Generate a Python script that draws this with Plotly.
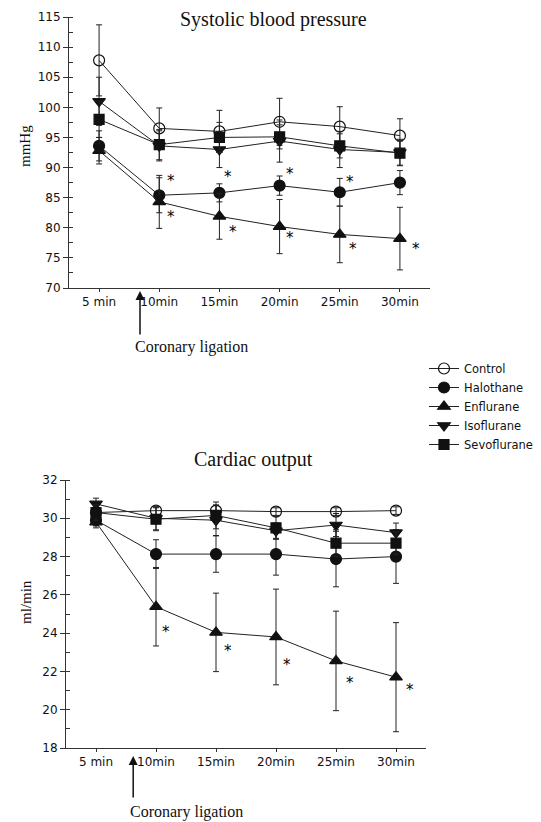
import plotly.graph_objects as go

categories = ["5 min", "10min", "15min", "20min", "25min", "30min"]
series_names = ["Control", "Halothane", "Enflurane", "Isoflurane", "Sevoflurane"]

# Systolic blood pressure (mmHg)
sbp_control = [107.8, 96.5, 96.0, 97.6, 96.8, 95.3]
sbp_halothane = [93.6, 85.4, 85.8, 87.0, 85.9, 87.5]
sbp_enflurane = [92.8, 84.3, 81.9, 80.2, 78.9, 78.2]
sbp_isoflurane = [101.0, 93.6, 93.0, 94.4, 93.0, 92.5]
sbp_sevoflurane = [98.0, 93.8, 95.0, 95.1, 93.6, 92.4]
sbp_control_sd = [5.9, 3.4, 3.5, 3.9, 3.3, 2.8]
sbp_halothane_sd = [2.5, 2.9, 1.5, 1.6, 2.3, 2.0]
sbp_enflurane_sd = [2.2, 4.4, 3.8, 4.5, 4.7, 5.2]
sbp_isoflurane_sd = [4.0, 2.5, 3.0, 3.5, 3.0, 2.2]
sbp_sevoflurane_sd = [3.0, 2.5, 2.5, 2.0, 2.0, 2.0]
sbp_star_x = [1.2, 1.2, 2.15, 2.22, 3.18, 3.18, 4.17, 4.22, 5.27]
sbp_star_y = [88.4, 82.4, 89.1, 80.0, 89.6, 79.0, 88.2, 77.1, 77.1]

# Cardiac output (ml/min)
co_control = [30.3, 30.4, 30.4, 30.35, 30.35, 30.4]
co_halothane = [29.9, 28.13, 28.13, 28.13, 27.87, 28.0]
co_enflurane = [29.8, 25.38, 24.04, 23.8, 22.55, 21.7]
co_isoflurane = [30.75, 30.0, 29.9, 29.35, 29.65, 29.25]
co_sevoflurane = [30.3, 29.95, 30.15, 29.5, 28.7, 28.7]
co_control_sd = [0.2, 0.2, 0.25, 0.2, 0.2, 0.2]
co_halothane_sd = [0.3, 0.75, 0.95, 1.1, 1.45, 1.4]
co_enflurane_sd = [0.3, 2.05, 2.05, 2.5, 2.6, 2.85]
co_isoflurane_sd = [0.3, 0.6, 0.8, 0.4, 0.6, 0.5]
co_sevoflurane_sd = [0.4, 0.6, 0.7, 0.6, 0.7, 0.6]
co_star_x = [1.17, 2.2, 3.19, 4.23, 5.24]
co_star_y = [24.27, 23.3, 22.54, 21.6, 21.24]

symbols = ["circle-open", "circle", "triangle-up", "triangle-down", "square"]
sizes = [11, 11, 11, 11, 10]

W, H = 541, 822
OFFX, OFFY = 5, 8  # page offset of the plot div
def px(p):
    return (p - OFFX) / W
def py(p):
    return 1 - (p - OFFY) / H

xs = list(range(len(categories)))
fig = go.Figure()

sbp = [sbp_control, sbp_halothane, sbp_enflurane, sbp_isoflurane, sbp_sevoflurane]
sbp_sd = [sbp_control_sd, sbp_halothane_sd, sbp_enflurane_sd, sbp_isoflurane_sd, sbp_sevoflurane_sd]
co = [co_control, co_halothane, co_enflurane, co_isoflurane, co_sevoflurane]
co_sd = [co_control_sd, co_halothane_sd, co_enflurane_sd, co_isoflurane_sd, co_sevoflurane_sd]

for i, name in enumerate(series_names):
    mk = dict(symbol=symbols[i], size=sizes[i], color="#111",
              line=dict(color="#111", width=1.2))
    fig.add_trace(go.Scatter(
        x=xs, y=sbp[i], mode="lines+markers", name=name, marker=mk,
        line=dict(color="#222", width=1),
        error_y=dict(type="data", array=sbp_sd[i], color="#222", thickness=1, width=3),
        xaxis="x", yaxis="y", showlegend=True))
for i, name in enumerate(series_names):
    mk = dict(symbol=symbols[i], size=sizes[i], color="#111",
              line=dict(color="#111", width=1.2))
    fig.add_trace(go.Scatter(
        x=xs, y=co[i], mode="lines+markers", name=name, marker=mk,
        line=dict(color="#222", width=1),
        error_y=dict(type="data", array=co_sd[i], color="#222", thickness=1, width=3),
        xaxis="x2", yaxis="y2", showlegend=False))

tickfont = dict(family="DejaVu Sans", size=12, color="#111")
xcommon = dict(tickvals=xs, ticktext=categories, range=[-0.5, 5.5], showline=True,
               linecolor="#333", linewidth=1, ticks="outside", ticklen=3, tickcolor="#333",
               showgrid=False, zeroline=False, tickfont=tickfont, automargin=False)
ycommon = dict(showline=True, linecolor="#333", linewidth=1, ticks="outside", ticklen=5,
               tickcolor="#333", showgrid=False, zeroline=False, tickfont=tickfont,
               automargin=False)
fig.update_layout(
    width=W, height=H, margin=dict(l=0, r=0, t=0, b=0, autoexpand=False),
    paper_bgcolor="white", plot_bgcolor="white",
    xaxis=dict(domain=[px(66), px(427)], anchor="y", **xcommon),
    yaxis=dict(domain=[py(288), py(17)], anchor="x", range=[70, 115], dtick=5,
               minor=dict(ticks="inside", ticklen=4, dtick=2.5, tickcolor="#333"), **ycommon),
    xaxis2=dict(domain=[px(63), px(423)], anchor="y2", **xcommon),
    yaxis2=dict(domain=[py(748), py(480)], anchor="x2", range=[18, 32], dtick=2,
                minor=dict(ticks="inside", ticklen=4, dtick=1, tickcolor="#333"), **ycommon),
    legend=dict(x=px(421), y=py(354), xanchor="left", yanchor="top",
                font=dict(family="DejaVu Sans", size=11.5, color="#111"),
                bgcolor="rgba(0,0,0,0)", itemwidth=30, tracegroupgap=0),
    showlegend=True,
)

serif = "Liberation Serif"
def lab(text, x, y, size, angle=0):
    return dict(text=text, x=px(x), y=py(y), xref="paper", yref="paper", textangle=angle,
                xanchor="center", yanchor="middle", showarrow=False, borderpad=0,
                font=dict(family=serif, size=size, color="#111"))

ann = [
    lab("Systolic blood pressure", 270, 20, 20),
    lab("Cardiac output", 250, 459, 20),
    lab("mmHg", 22, 146, 15, -90),
    lab("ml/min", 23, 602, 15, -90),
    lab("Coronary ligation", 188, 347, 16),
    lab("Coronary ligation", 183, 812, 16),
    dict(text="", x=0.68, y=py(291), xref="x", yref="paper", ax=0, ay=45,
         showarrow=True, arrowhead=2, arrowsize=1.2, arrowwidth=1.5, arrowcolor="#111"),
    dict(text="", x=0.62, y=py(756), xref="x2", yref="paper", ax=0, ay=43,
         showarrow=True, arrowhead=2, arrowsize=1.2, arrowwidth=1.5, arrowcolor="#111"),
]
starfont = dict(family="DejaVu Sans", size=15, color="#000")
for sx, sy in zip(sbp_star_x, sbp_star_y):
    ann.append(dict(text="*", x=sx, y=sy, xref="x", yref="y", showarrow=False,
                    yshift=-4, font=starfont))
for sx, sy in zip(co_star_x, co_star_y):
    ann.append(dict(text="*", x=sx, y=sy, xref="x2", yref="y2", showarrow=False,
                    yshift=-4, font=starfont))
fig.update_layout(annotations=ann)

fig.write_html("out.html")
